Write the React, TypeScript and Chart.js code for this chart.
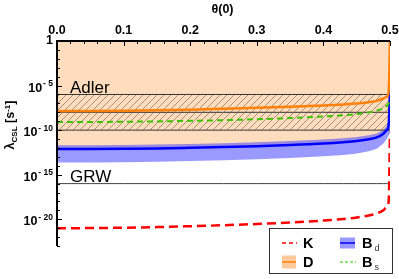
import React, { useEffect, useRef } from 'react';
import { Chart, registerables } from 'chart.js';
Chart.register(...registerables);

// θ(0) sample positions
const theta = [0, 0.05, 0.1, 0.15, 0.2, 0.25, 0.3, 0.35, 0.4, 0.43, 0.45, 0.47, 0.48, 0.49, 0.495, 0.498, 0.5];
// log10 of λ_CSL for each curve / band edge
const dLog = [-7.87, -7.86, -7.83, -7.78, -7.7, -7.6, -7.5, -7.38, -7.24, -7.12, -7.02, -6.84, -6.72, -6.45, -6.25, -5.7, 0];
const dLowerLog = [-12.03, -12.02, -11.99, -11.95, -11.88, -11.8, -11.7, -11.57, -11.4, -11.25, -11.12, -10.9, -10.72, -10.3, -9.9, -9.3, -5.2];
const bsLog = [-9.1, -9.09, -9.06, -9.02, -8.96, -8.88, -8.78, -8.65, -8.47, -8.33, -8.2, -7.98, -7.82, -7.55, -7.3, -7.0, -6.4];
const bdLog = [-12.13, -12.12, -12.09, -12.05, -11.98, -11.9, -11.8, -11.67, -11.5, -11.35, -11.22, -11.0, -10.82, -10.4, -10.0, -9.4, -5.3];
const bdUpperLog = [-11.7, -11.69, -11.66, -11.62, -11.55, -11.46, -11.36, -11.23, -11.05, -10.9, -10.77, -10.55, -10.37, -9.95, -9.55, -8.9, -5.3];
const bdLowerLog = [-13.63, -13.62, -13.59, -13.54, -13.47, -13.38, -13.27, -13.12, -12.93, -12.78, -12.63, -12.35, -12.1, -11.5, -11.0, -10.6, -10.34];
const kLog = [-21.0, -20.99, -20.95, -20.88, -20.78, -20.67, -20.53, -20.36, -20.15, -19.97, -19.8, -19.55, -19.35, -19.0, -18.6, -18.0, -10.4];
const adlerLog = [-6, -8, -10];
const grwLog = -16;

const xTicks = [0, 0.1, 0.2, 0.3, 0.4, 0.5];
const xTickLabels = ['0.0', '0.1', '0.2', '0.3', '0.4', '0.5'];
const yMajorExp = [0, -5, -10, -15, -20];
const yMinExp = -23;

const FONT = "'Liberation Sans', Arial, Helvetica, sans-serif";

const series = (logs: number[]) => theta.map((t, i) => ({ x: t, y: Math.pow(10, logs[i]) }));
const constSeries = (lg: number) => theta.map((t) => ({ x: t, y: Math.pow(10, lg) }));

function makeHatch(): CanvasPattern | string {
  const c = document.createElement('canvas');
  c.width = 7; c.height = 7;
  const g = c.getContext('2d');
  if (!g) return 'rgba(0,0,0,0)';
  g.strokeStyle = 'rgba(110,90,70,0.75)';
  g.lineWidth = 0.8;
  g.beginPath();
  g.moveTo(0, 7); g.lineTo(7, 0);
  g.moveTo(-1, 1); g.lineTo(1, -1);
  g.moveTo(6, 8); g.lineTo(8, 6);
  g.stroke();
  return g.createPattern(c, 'repeat') || 'rgba(0,0,0,0)';
}

const decor = {
  id: 'decor',
  afterDraw(chart: any) {
    const { ctx, chartArea: a, scales } = chart;
    const xs = scales.x, ys = scales.y;
    ctx.save();
    // frame (top + left)
    ctx.strokeStyle = '#000';
    ctx.lineWidth = 2;
    ctx.beginPath();
    ctx.moveTo(a.left, a.bottom);
    ctx.lineTo(a.left, a.top);
    ctx.lineTo(a.right, a.top);
    ctx.stroke();
    // x ticks (inward from top)
    ctx.lineWidth = 1;
    for (let i = 0; i <= 25; i++) {
      const v = i * 0.02;
      const px = Math.round(xs.getPixelForValue(v)) + 0.5;
      const len = i % 5 === 0 ? 5 : 3;
      ctx.beginPath();
      ctx.moveTo(px, a.top);
      ctx.lineTo(px, a.top + len);
      ctx.stroke();
    }
    // y ticks (inward from left)
    for (let e = 0; e >= yMinExp; e--) {
      const py = Math.round(ys.getPixelForValue(Math.pow(10, e))) + 0.5;
      const len = e % 5 === 0 ? 5 : 3;
      ctx.beginPath();
      ctx.moveTo(a.left, py);
      ctx.lineTo(a.left + len, py);
      ctx.stroke();
    }
    ctx.fillStyle = '#000';
    // x tick labels
    ctx.font = `bold 12.5px ${FONT}`;
    ctx.textAlign = 'center';
    ctx.textBaseline = 'middle';
    xTicks.forEach((v, i) => {
      ctx.fillText(xTickLabels[i], xs.getPixelForValue(v), 31);
    });
    // x title
    ctx.fillText('θ(0)', (a.left + a.right) / 2 - 1, 9.5);
    // y tick labels
    yMajorExp.forEach((e) => {
      const py = ys.getPixelForValue(Math.pow(10, e));
      if (e === 0) {
        ctx.font = `bold 12.5px ${FONT}`;
        ctx.textAlign = 'right';
        ctx.textBaseline = 'middle';
        ctx.fillText('1', 53, py);
        return;
      }
      ctx.textBaseline = 'alphabetic';
      ctx.textAlign = 'right';
      ctx.font = `bold 8.5px ${FONT}`;
      const ex = '- ' + String(-e);
      const ew = ctx.measureText(ex).width;
      ctx.fillText(ex, 53, py + 0.5);
      ctx.font = `bold 12.5px ${FONT}`;
      ctx.fillText('10', 53 - ew - 1, py + 6);
    });
    // y title (rotated)
    ctx.save();
    const parts: [string, number, number][] = [
      ['λ', 12.5, 0],
      ['CSL', 8, 2.5],
      [' [s', 12.5, 0],
      ['-1', 8, -4.5],
      [']', 12.5, 0],
    ];
    let total = 0;
    parts.forEach(([t, s]) => { ctx.font = `bold ${s}px ${FONT}`; total += ctx.measureText(t).width; });
    ctx.translate(14, 125 + total / 2);
    ctx.rotate(-Math.PI / 2);
    ctx.textAlign = 'left';
    ctx.textBaseline = 'alphabetic';
    let cx = 0;
    parts.forEach(([t, s, off]) => {
      ctx.font = `bold ${s}px ${FONT}`;
      ctx.fillText(t, cx, off);
      cx += ctx.measureText(t).width;
    });
    ctx.restore();
    // region labels
    ctx.font = `17px ${FONT}`;
    ctx.textAlign = 'left';
    ctx.textBaseline = 'alphabetic';
    ctx.fillText('Adler', 70, 93);
    ctx.fillText('GRW', 70, 182);
    // legend
    ctx.fillStyle = '#fff';
    ctx.fillRect(269.5, 228.5, 123, 45);
    ctx.strokeStyle = '#333';
    ctx.lineWidth = 1;
    ctx.strokeRect(269.5, 228.5, 123, 45);
    const r1 = 243, r2 = 262;
    // K
    ctx.strokeStyle = 'rgb(255,0,0)';
    ctx.lineWidth = 1.5;
    ctx.setLineDash([4, 3]);
    ctx.beginPath(); ctx.moveTo(282, r1); ctx.lineTo(297, r1); ctx.stroke();
    // Bs
    ctx.strokeStyle = 'rgb(40,200,0)';
    ctx.lineWidth = 1.2;
    ctx.setLineDash([3, 2]);
    ctx.beginPath(); ctx.moveTo(340, r2); ctx.lineTo(356, r2); ctx.stroke();
    ctx.setLineDash([]);
    // Bd swatch
    ctx.fillStyle = 'rgba(70,70,255,0.55)';
    ctx.fillRect(340, r1 - 5.5, 15, 11);
    ctx.strokeStyle = 'rgb(0,0,255)';
    ctx.lineWidth = 1.5;
    ctx.beginPath(); ctx.moveTo(340, r1); ctx.lineTo(355, r1); ctx.stroke();
    // D swatch
    ctx.fillStyle = 'rgba(251,150,60,0.5)';
    ctx.fillRect(282, r2 - 6.5, 14, 13);
    ctx.strokeStyle = 'rgb(255,128,10)';
    ctx.beginPath(); ctx.moveTo(282, r2); ctx.lineTo(296, r2); ctx.stroke();
    // legend text
    ctx.fillStyle = '#000';
    ctx.font = `bold 14.5px ${FONT}`;
    ctx.textBaseline = 'alphabetic';
    ctx.fillText('K', 303, r1 + 5.3);
    ctx.fillText('D', 303, r2 + 5.3);
    ctx.fillText('B', 362, r1 + 5.3);
    ctx.fillText('B', 362, r2 + 5.3);
    ctx.font = `9px ${FONT}`;
    ctx.fillStyle = '#333';
    ctx.fillText('d', 374.5, r1 + 7.5);
    ctx.fillText('s', 374.5, r2 + 7.5);
    ctx.restore();
  },
};

export default function App() {
  const ref = useRef<HTMLCanvasElement | null>(null);
  useEffect(() => {
    document.body.style.margin = '0';
    const cv = ref.current;
    if (!cv) return;
    const hatch = makeHatch();
    const flat = { pointRadius: 0, borderWidth: 0, tension: 0 };
    const chart = new Chart(cv, {
      type: 'line',
      data: {
        datasets: [
          { label: 'Dtop', data: constSeries(0), ...flat, fill: '+1', backgroundColor: 'rgba(251,140,40,0.3)', order: 10 },
          { label: 'Dlow', data: series(dLowerLog), ...flat, fill: false, order: 10 },
          { label: 'BdUp', data: series(bdUpperLog), ...flat, fill: '+1', backgroundColor: 'rgba(70,70,255,0.55)', order: 9 },
          { label: 'BdLow', data: series(bdLowerLog), ...flat, fill: false, order: 9 },
          { label: 'AdlerTop', data: constSeries(adlerLog[0]), pointRadius: 0, borderWidth: 1, borderColor: '#333', fill: { target: 6 }, backgroundColor: hatch as any, order: 8 },
          { label: 'AdlerMid', data: constSeries(adlerLog[1]), pointRadius: 0, borderWidth: 1, borderColor: '#333', fill: false, order: 8 },
          { label: 'AdlerBot', data: constSeries(adlerLog[2]), pointRadius: 0, borderWidth: 1, borderColor: '#333', fill: false, order: 8 },
          { label: 'GRW', data: constSeries(grwLog), pointRadius: 0, borderWidth: 1, borderColor: '#444', fill: false, order: 8 },
          { label: 'K', data: series(kLog), pointRadius: 0, borderWidth: 2.5, borderColor: 'rgb(255,0,0)', borderDash: [9, 5], fill: false, order: 4, cubicInterpolationMode: 'monotone' },
          { label: 'Bd', data: series(bdLog), pointRadius: 0, borderWidth: 2.5, borderColor: 'rgb(0,0,255)', fill: false, order: 3, cubicInterpolationMode: 'monotone' },
          { label: 'Bs', data: series(bsLog), pointRadius: 0, borderWidth: 2, borderColor: 'rgb(60,195,0)', borderDash: [6, 4], fill: false, order: 2, cubicInterpolationMode: 'monotone' },
          { label: 'D', data: series(dLog), pointRadius: 0, borderWidth: 2.5, borderColor: 'rgb(255,128,10)', fill: false, order: 1, cubicInterpolationMode: 'monotone' },
        ] as any,
      },
      options: {
        animation: false,
        responsive: false,
        devicePixelRatio: 1,
        layout: { padding: { left: 57, top: 41, right: 9, bottom: 33 } },
        scales: {
          x: { type: 'linear', min: 0, max: 0.5, display: false },
          y: { type: 'logarithmic', min: 1e-23, max: 1, display: false },
        },
        plugins: { legend: { display: false }, tooltip: { enabled: false } },
        elements: { line: { borderCapStyle: 'butt' } },
      },
      plugins: [decor],
    });
    return () => chart.destroy();
  }, []);
  return (
    <div style={{ width: 399, height: 279 }}>
      <canvas ref={ref} width={399} height={279} style={{ display: 'block' }} />
    </div>
  );
}
